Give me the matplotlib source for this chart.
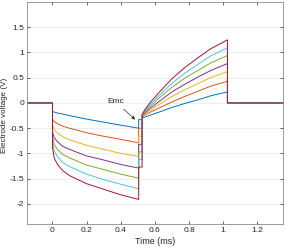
import matplotlib
matplotlib.use("Agg")
import matplotlib.pyplot as plt

plt.rcParams['font.family'] = ['Liberation Sans', 'DejaVu Sans']

colors = ['#0072BD', '#D95319', '#EDB120', '#7E2F8E', '#77AC30', '#4DBEEE', '#A2142F']

# cathodic phase
t_cath = [0, 0.01, 0.03, 0.06, 0.1, 0.2, 0.3, 0.4, 0.505]
v_cath = [
    [-0.17, -0.18, -0.20, -0.22, -0.25, -0.32, -0.38, -0.44, -0.50],
    [-0.32, -0.37, -0.41, -0.46, -0.50, -0.59, -0.66, -0.72, -0.79],
    [-0.44, -0.53, -0.60, -0.67, -0.73, -0.84, -0.92, -1.00, -1.06],
    [-0.57, -0.69, -0.77, -0.86, -0.92, -1.05, -1.13, -1.22, -1.29],
    [-0.68, -0.83, -0.92, -1.02, -1.09, -1.23, -1.32, -1.41, -1.49],
    [-0.78, -0.95, -1.07, -1.18, -1.26, -1.41, -1.52, -1.61, -1.70],
    [-0.88, -1.09, -1.22, -1.34, -1.44, -1.60, -1.71, -1.82, -1.91],
]
# interphase (Emc) level
t_inter = [0.505, 0.525]
v_emc = [-0.33, -0.50, -0.66, -0.82, -0.97, -1.12, -1.27]
# anodic phase
t_anod = [0.525, 0.54, 0.575, 0.625, 0.7, 0.775, 0.85, 0.925, 1.025]
v_anod = [
    [-0.30, -0.28, -0.24, -0.18, -0.09, -0.01, 0.06, 0.14, 0.22],
    [-0.28, -0.24, -0.18, -0.10, 0.02, 0.13, 0.23, 0.33, 0.43],
    [-0.27, -0.23, -0.14, -0.03, 0.13, 0.26, 0.38, 0.50, 0.62],
    [-0.26, -0.20, -0.10, 0.03, 0.22, 0.37, 0.51, 0.64, 0.78],
    [-0.25, -0.18, -0.06, 0.10, 0.31, 0.49, 0.64, 0.79, 0.94],
    [-0.24, -0.16, -0.02, 0.15, 0.39, 0.59, 0.76, 0.93, 1.09],
    [-0.23, -0.14, 0.02, 0.21, 0.48, 0.70, 0.89, 1.07, 1.25],
]
t_pre = [-0.15, 0]
t_post = [1.025, 1.35]

fig = plt.figure(figsize=(2.89, 2.49), dpi=100)
ax = fig.add_axes([0.093, 0.100, 0.886, 0.892])

for i, c in enumerate(colors):
    t = t_pre + t_cath + t_inter + t_anod + t_post
    v = [0, 0] + v_cath[i] + [v_emc[i], v_emc[i]] + v_anod[i] + [0, 0]
    ax.plot(t, v, color=c, lw=0.7)

ax.set_xlim(-0.15, 1.35)
ax.set_ylim(-2.4, 2.0)
ax.set_xticks([0, 0.2, 0.4, 0.6, 0.8, 1, 1.2])
ax.set_xticklabels(['0', '0.2', '0.4', '0.6', '0.8', '1', '1.2'])
ax.set_yticks([-2, -1.5, -1, -0.5, 0, 0.5, 1, 1.5])
ax.set_yticklabels(['-2', '-1.5', '-1', '-0.5', '0', '0.5', '1', '1.5'])
ax.grid(axis='y', color='#e6e6e6', lw=0.5)
ax.set_axisbelow(True)
ax.tick_params(direction='in', length=2, width=0.5, labelsize=6, colors='#262626',
               top=True, right=True, pad=2)
for s in ax.spines.values():
    s.set_color('#8c8c8c')
    s.set_linewidth(0.6)
ax.set_xlabel('Time (ms)', fontsize=6.5, color='#262626', labelpad=2)
ax.set_ylabel('Electrode voltage (V)', fontsize=5.8, color='#262626', labelpad=1)
ax.yaxis.set_label_coords(-0.075, 0.49)

ax.annotate('Emc', xy=(0.485, -0.33), xytext=(0.37, 0.02), fontsize=6,
            ha='center', va='center', color='#262626',
            arrowprops=dict(arrowstyle='-|>', color='#333333', lw=0.5,
                            mutation_scale=5, shrinkA=1, shrinkB=0))

fig.savefig('out.png', dpi=100)
